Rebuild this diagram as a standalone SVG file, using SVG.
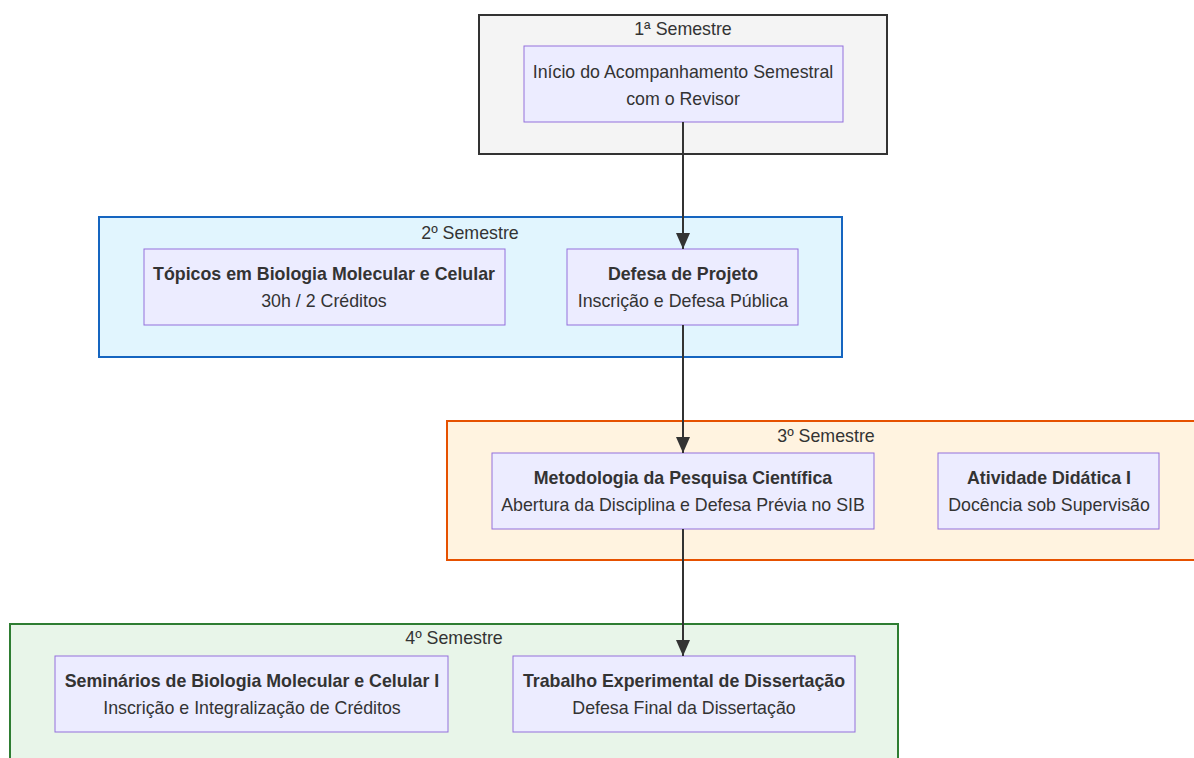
<svg xmlns="http://www.w3.org/2000/svg" width="1194" height="758" viewBox="0 0 1194 758">
<defs>
<style>
.t{font-family:"Liberation Sans",Arial,sans-serif;font-size:17.8px;fill:#333;text-anchor:middle}
.b{font-weight:bold}
.node{fill:#ececff;stroke:#9370db;stroke-width:1}
.edge{stroke:#333;stroke-width:2;fill:none}
</style>
<marker id="ah" viewBox="0 0 16 16" refX="16" refY="8" markerWidth="16" markerHeight="14" markerUnits="userSpaceOnUse" orient="auto" preserveAspectRatio="none">
<path d="M0,0 L16,8 L0,16 z" fill="#333"/>
</marker>
</defs>
<rect width="1194" height="758" fill="#fff"/>
<g id="cluster1">
<rect x="479" y="15" width="408" height="139" fill="#f4f4f4" stroke="#333" stroke-width="2"/>
<text class="t" x="683" y="35">1ª Semestre</text>
</g>
<g id="cluster2">
<rect x="99" y="217" width="743" height="140" fill="#e1f5fe" stroke="#1565c0" stroke-width="2"/>
<text class="t" x="470" y="239">2º Semestre</text>
</g>
<g id="cluster3">
<rect x="447" y="421" width="760" height="139" fill="#fff3e0" stroke="#e65100" stroke-width="2"/>
<text class="t" x="826" y="442">3º Semestre</text>
</g>
<g id="cluster4">
<rect x="10" y="624" width="888" height="150" fill="#e8f5e9" stroke="#2e7d32" stroke-width="2"/>
<text class="t" x="454" y="644">4º Semestre</text>
</g>
<g id="n1">
<rect class="node" x="524" y="46" width="319" height="76"/>
<text class="t" x="683" y="78">Início do Acompanhamento Semestral</text>
<text class="t" x="683" y="105">com o Revisor</text>
</g>
<g id="n2">
<rect class="node" x="144" y="249" width="361" height="76"/>
<text class="t b" x="324" y="280">Tópicos em Biologia Molecular e Celular</text>
<text class="t" x="324" y="307">30h / 2 Créditos</text>
</g>
<g id="n3">
<rect class="node" x="567" y="249" width="231" height="76"/>
<text class="t b" x="683" y="280">Defesa de Projeto</text>
<text class="t" x="683" y="307">Inscrição e Defesa Pública</text>
</g>
<g id="n4">
<rect class="node" x="492" y="453" width="382" height="76"/>
<text class="t b" x="683" y="484">Metodologia da Pesquisa Científica</text>
<text class="t" x="683" y="511">Abertura da Disciplina e Defesa Prévia no SIB</text>
</g>
<g id="n5">
<rect class="node" x="938" y="453" width="221" height="76"/>
<text class="t b" x="1049" y="484">Atividade Didática I</text>
<text class="t" x="1049" y="511">Docência sob Supervisão</text>
</g>
<g id="n6">
<rect class="node" x="55" y="656" width="393" height="76"/>
<text class="t b" x="252" y="687">Seminários de Biologia Molecular e Celular I</text>
<text class="t" x="252" y="714">Inscrição e Integralização de Créditos</text>
</g>
<g id="n7">
<rect class="node" x="513" y="656" width="342" height="76"/>
<text class="t b" x="684" y="687">Trabalho Experimental de Dissertação</text>
<text class="t" x="684" y="714">Defesa Final da Dissertação</text>
</g>
<g id="connectors">
<path class="edge" d="M683,122 V249" marker-end="url(#ah)"/>
<path class="edge" d="M683,325 V453" marker-end="url(#ah)"/>
<path class="edge" d="M683,529 V656" marker-end="url(#ah)"/>
</g>
</svg>
